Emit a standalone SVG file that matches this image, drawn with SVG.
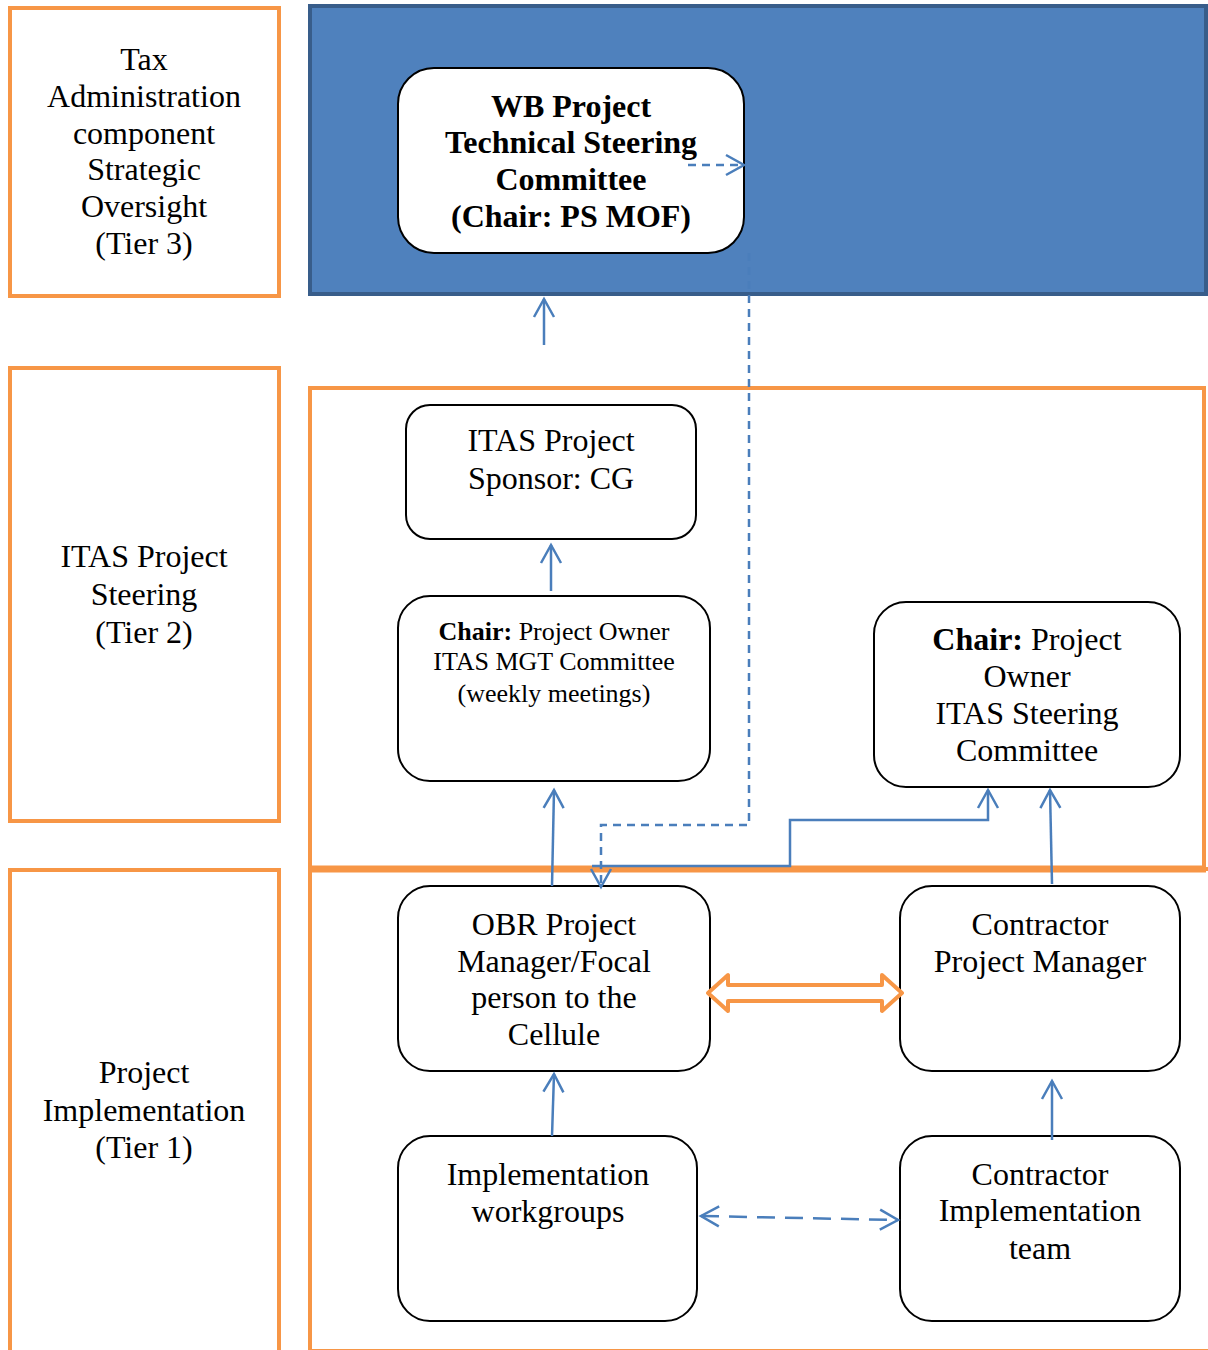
<svg xmlns="http://www.w3.org/2000/svg" width="1208" height="1350" viewBox="0 0 1208 1350">
<style>
.lbl{fill:#fff;stroke:#F79646;stroke-width:4}
.frame{fill:none;stroke:#F79646;stroke-width:4}
.node{fill:#fff;stroke:#000;stroke-width:2}
text{font-family:"Liberation Serif","Times New Roman",serif;font-size:32px;fill:#000;text-anchor:middle}
.b{font-weight:bold;font-size:32px}
.s{font-size:26px}
.c{fill:none;stroke:#4A7EBB;stroke-width:2.5}
.d{stroke-dasharray:8 6}
.dl{stroke-dasharray:18 10}
</style>
<defs>
<marker id="ah" markerUnits="userSpaceOnUse" viewBox="-20 -12 24 24" markerWidth="24" markerHeight="24" refX="0" refY="0" orient="auto-start-reverse">
<path d="M-18,-10 L0,0 L-18,10" fill="none" stroke="#4A7EBB" stroke-width="2.5"/>
</marker>
</defs>
<g id="tier3-label"><rect class="lbl" x="10" y="8" width="269" height="288"/>
<text x="144" y="70">Tax</text><text x="144" y="107">Administration</text><text x="144" y="144">component</text><text x="144" y="180">Strategic</text><text x="144" y="217">Oversight</text><text x="144" y="254">(Tier 3)</text></g>
<g id="tier2-label"><rect class="lbl" x="10" y="368" width="269" height="453"/>
<text x="144" y="567">ITAS Project</text><text x="144" y="605">Steering</text><text x="144" y="643">(Tier 2)</text></g>
<g id="tier1-label"><rect class="lbl" x="10" y="870" width="269" height="490"/>
<text x="144" y="1083">Project</text><text x="144" y="1121">Implementation</text><text x="144" y="1158">(Tier 1)</text></g>
<g id="tier3-frame"><rect x="310" y="6" width="896" height="288" fill="#4F81BD" stroke="#385D8A" stroke-width="4"/></g>
<g id="tier2-frame"><rect class="frame" x="310" y="388" width="894" height="481"/></g>
<g id="tier1-frame"><rect class="frame" x="310" y="869" width="920" height="482" stroke-width="3"/><line x1="310" y1="869" x2="1206" y2="869" stroke="#F79646" stroke-width="7"/></g>
<g id="wb"><rect class="node" x="398" y="68" width="346" height="185" rx="36"/>
<text class="b" x="571" y="117">WB Project</text><text class="b" x="571" y="153">Technical Steering</text><text class="b" x="571" y="190">Committee</text><text class="b" x="571" y="227">(Chair: PS MOF)</text></g>
<g id="sponsor"><rect class="node" x="406" y="405" width="290" height="134" rx="24"/>
<text x="551" y="451">ITAS Project</text><text x="551" y="489">Sponsor: CG</text></g>
<g id="mgt"><rect class="node" x="398" y="596" width="312" height="185" rx="32"/>
<text class="s" x="554" y="640"><tspan font-weight="bold">Chair:</tspan> Project Owner</text><text class="s" x="554" y="670">ITAS MGT Committee</text><text class="s" x="554" y="702">(weekly meetings)</text></g>
<g id="steering"><rect class="node" x="874" y="602" width="306" height="185" rx="32"/>
<text x="1027" y="650"><tspan font-weight="bold">Chair:</tspan> Project</text><text x="1027" y="687">Owner</text><text x="1027" y="724">ITAS Steering</text><text x="1027" y="761">Committee</text></g>
<g id="obr"><rect class="node" x="398" y="886" width="312" height="185" rx="32"/>
<text x="554" y="935">OBR Project</text><text x="554" y="972">Manager/Focal</text><text x="554" y="1008">person to the</text><text x="554" y="1045">Cellule</text></g>
<g id="cpm"><rect class="node" x="900" y="886" width="280" height="185" rx="32"/>
<text x="1040" y="935">Contractor</text><text x="1040" y="972">Project Manager</text></g>
<g id="iwg"><rect class="node" x="398" y="1136" width="299" height="185" rx="32"/>
<text x="548" y="1185">Implementation</text><text x="548" y="1222">workgroups</text></g>
<g id="cit"><rect class="node" x="900" y="1136" width="280" height="185" rx="32"/>
<text x="1040" y="1185">Contractor</text><text x="1040" y="1221">Implementation</text><text x="1040" y="1259">team</text></g>
<g id="connectors">
<line class="c" x1="544" y1="345" x2="544" y2="299" marker-end="url(#ah)"/>
<line class="c d" x1="688" y1="165" x2="744" y2="165" marker-end="url(#ah)"/>
<line class="c" x1="551" y1="591" x2="551" y2="545" marker-end="url(#ah)"/>
<line class="c" x1="552" y1="886" x2="554" y2="790" marker-end="url(#ah)"/>
<polyline class="c d" points="749,253 749,825 601,825 601,887" marker-end="url(#ah)"/>
<polyline class="c" points="592,866 790,866 790,820 988,820 988,790" marker-end="url(#ah)"/>
<line class="c" x1="1052" y1="884" x2="1050" y2="790" marker-end="url(#ah)"/>
<line class="c" x1="552" y1="1136" x2="554" y2="1074" marker-end="url(#ah)"/>
<line class="c" x1="1052" y1="1140" x2="1052" y2="1081" marker-end="url(#ah)"/>
<line class="c dl" x1="701" y1="1216" x2="898" y2="1220" marker-start="url(#ah)" marker-end="url(#ah)"/>
<path d="M708,993 L728,975 L728,985 L882,985 L882,975 L902,993 L882,1011 L882,1001 L728,1001 L728,1011 Z" fill="#fff" stroke="#F79646" stroke-width="4" stroke-linejoin="round"/>
</g>
</svg>
